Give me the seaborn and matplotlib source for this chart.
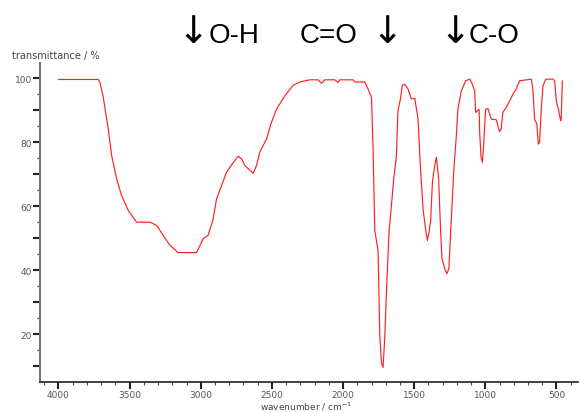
import numpy as np
import pandas as pd
import seaborn as sns
import matplotlib.pyplot as plt
from matplotlib.ticker import MultipleLocator, FuncFormatter


# IR spectrum (wavenumber in cm-1, transmittance in %)
wavenumber = [4000, 3720, 3708, 3685, 3650, 3626, 3591, 3556, 3510, 3451,
              3357, 3310, 3264, 3217, 3159, 3030, 2983, 2948, 2913, 2889,
              2854, 2819, 2784, 2737, 2713, 2690, 2632, 2608, 2585, 2538,
              2503, 2468, 2409, 2351, 2304, 2234, 2175, 2152, 2128, 2058,
              2035, 2023, 1930, 1917, 1847, 1824, 1800, 1789, 1777, 1754,
              1742, 1730, 1719, 1707, 1695, 1677, 1660, 1644, 1625, 1614,
              1597, 1583, 1567, 1543, 1520, 1496, 1473, 1457, 1438, 1419,
              1407, 1396, 1384, 1372, 1356, 1344, 1328, 1316, 1305, 1286,
              1270, 1256, 1244, 1232, 1221, 1204, 1193, 1169, 1138, 1110,
              1091, 1075, 1068, 1056, 1044, 1040, 1030, 1021, 1012, 1005,
              998, 982, 958, 923, 912, 900, 889, 877, 853, 829,
              806, 783, 759, 677, 666, 654, 638, 628, 619, 607,
              595, 576, 525, 513, 501, 485, 471, 467, 459]
transmittance = [99.6, 99.6, 98.7, 94.0, 84.1, 75.8, 68.5, 63.3, 58.7, 55.0,
                 55.0, 54.0, 50.9, 47.8, 45.5, 45.5, 49.8, 50.9, 56.0, 62.3,
                 66.4, 70.6, 72.9, 75.6, 74.8, 72.7, 70.3, 72.7, 76.9, 81.0,
                 86.2, 90.3, 94.5, 97.8, 98.8, 99.5, 99.5, 98.4, 99.5, 99.5,
                 98.7, 99.5, 99.5, 98.8, 98.8, 96.6, 94.0, 77.9, 52.4, 46.2,
                 19.7, 10.9, 9.6, 18.7, 33.2, 51.9, 60.2, 68.5, 75.8, 89.8,
                 93.5, 97.8, 98.1, 96.6, 93.5, 93.7, 87.2, 72.7, 59.2, 52.4,
                 49.3, 51.9, 55.6, 67.5, 72.7, 75.3, 68.5, 54.0, 43.6, 40.5,
                 38.9, 40.5, 51.9, 62.3, 71.7, 82.0, 90.3, 96.0, 99.2, 99.7,
                 98.1, 96.0, 89.3, 89.8, 90.3, 83.1, 75.3, 73.7, 78.9, 85.1,
                 90.3, 90.5, 87.2, 87.0, 85.1, 83.3, 84.1, 89.3, 90.9, 92.9,
                 95.0, 96.6, 99.2, 99.7, 96.6, 87.2, 85.7, 79.4, 80.0, 90.3,
                 97.6, 99.7, 99.7, 99.2, 92.9, 89.8, 86.7, 87.2, 99.2]

band_labels = ["O-H", "C=O", "C-O"]

df = pd.DataFrame({'wavenumber': wavenumber, 'transmittance': transmittance})

sns.set_style("ticks")
plt.rcParams['font.family'] = ['DejaVu Sans']

fig = plt.figure(figsize=(5.79, 4.14), dpi=100)
ax = fig.add_axes([0.069, 0.076, 0.929, 0.769])

sns.lineplot(data=df, x='wavenumber', y='transmittance', color='#ff2020',
             lw=0.85, estimator=None, sort=False, ax=ax)

ax.set_xlim(4130, 350)
ax.set_ylim(5.2, 104.7)

ax.xaxis.set_major_locator(MultipleLocator(500))
ax.xaxis.set_minor_locator(MultipleLocator(100))
ax.yaxis.set_major_locator(MultipleLocator(10))
ax.yaxis.set_minor_locator(MultipleLocator(5))
ax.yaxis.set_major_formatter(FuncFormatter(
    lambda v, p: f"{int(v)}" if int(round(v)) % 20 == 0 else ""))

ax.tick_params(which='major', length=5, width=1.5, colors='#222',
               labelcolor='#555', labelsize=6.5, pad=0.8)
ax.tick_params(which='minor', length=2.2, width=0.8, colors='#444')

for s in ['top', 'right']:
    ax.spines[s].set_visible(False)
ax.spines['left'].set_color('#777')
ax.spines['left'].set_linewidth(1.5)
ax.spines['bottom'].set_color('#222')
ax.spines['bottom'].set_linewidth(1.2)

ax.set_xlabel('')
ax.set_ylabel('')
fig.text(0.021, 0.857, 'transmittance / %', fontsize=7, color='#444')
fig.text(0.528, 0.008, r'wavenumber / cm$^{-1}$', fontsize=6.5, color='#444',
         ha='center')

# band labels with big down arrows
big_font = ['Liberation Sans', 'DejaVu Sans']
for lab, xf in zip(band_labels, [0.360, 0.517, 0.809]):
    fig.text(xf, 0.897, lab, fontsize=20, family=big_font, color='black')
for xf in [0.306, 0.641, 0.758]:
    fig.text(xf, 0.895, "\u2193", fontsize=27, family=['DejaVu Sans'],
             color='black')

plt.savefig('out.png', dpi=100)
